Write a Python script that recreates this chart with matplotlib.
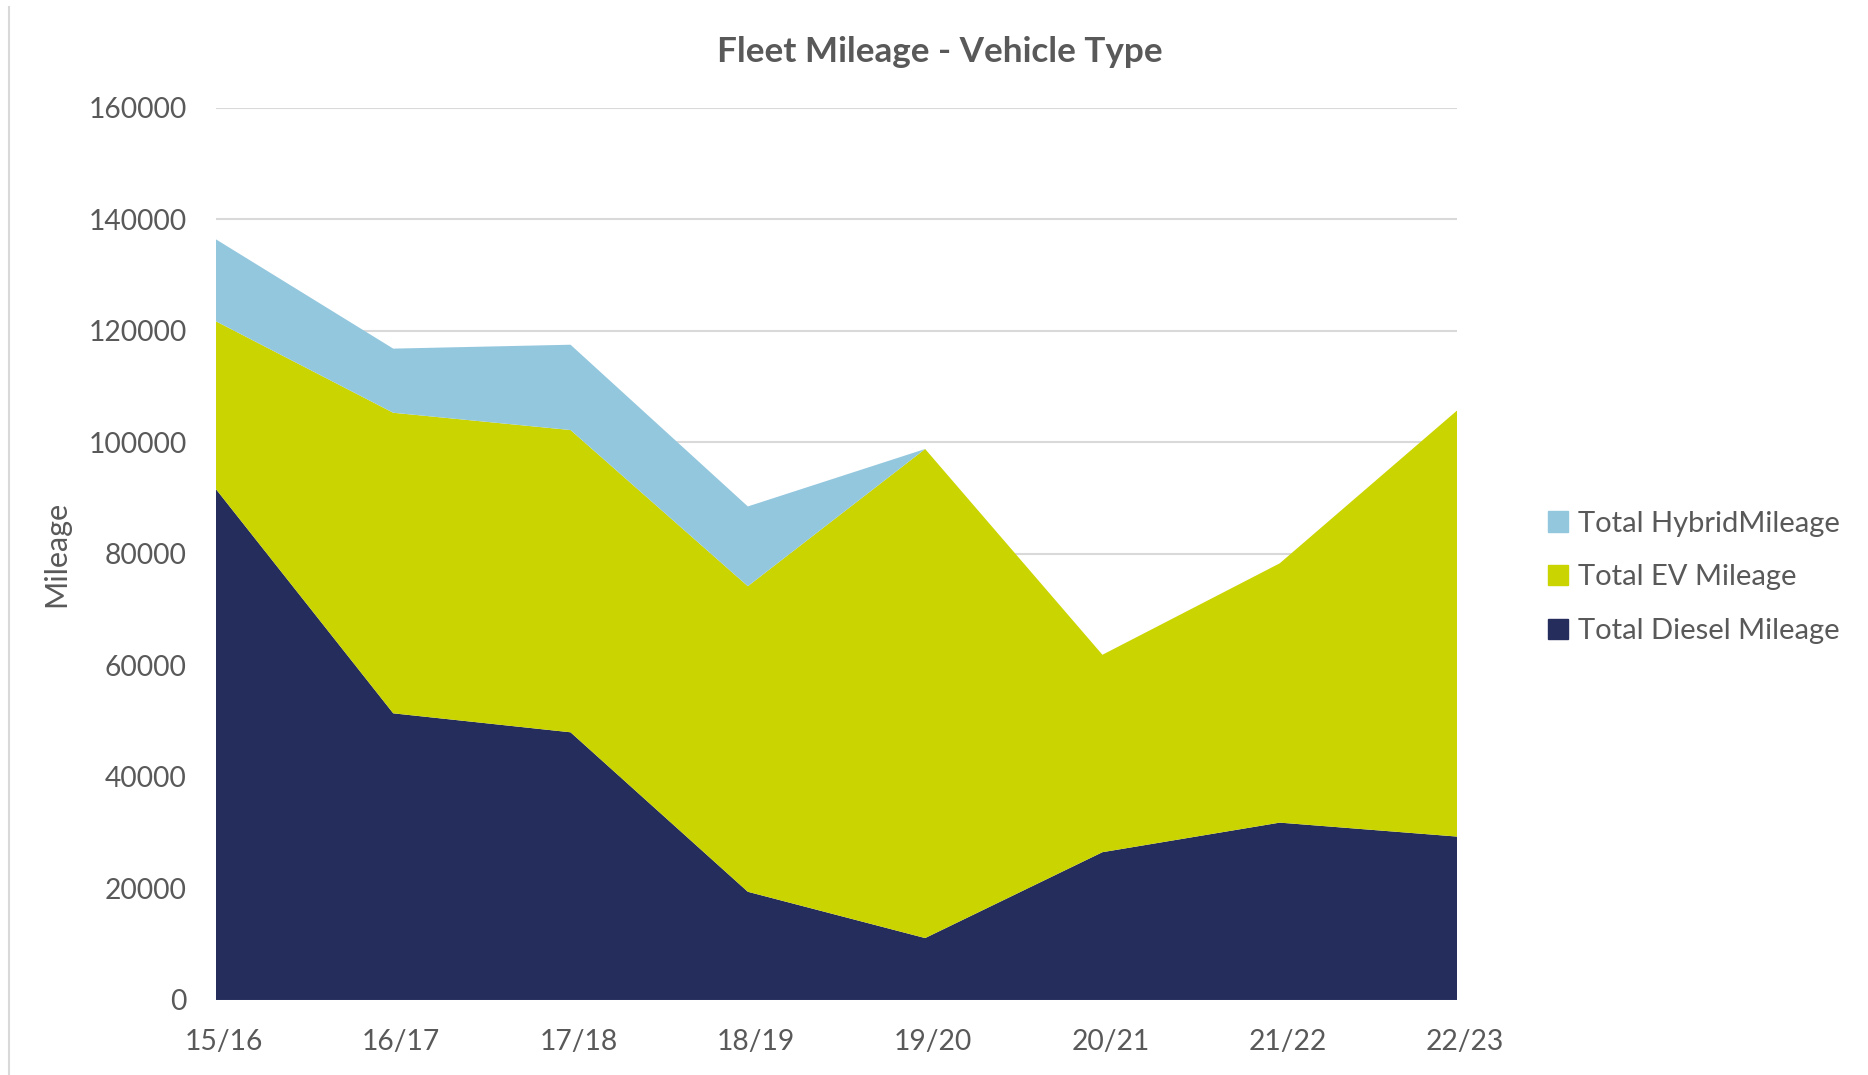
import matplotlib.pyplot as plt
from matplotlib.lines import Line2D
from matplotlib.patches import Patch
from matplotlib.transforms import ScaledTranslation

# Data
years = ["15/16", "16/17", "17/18", "18/19", "19/20", "20/21", "21/22", "22/23"]
diesel = [91600, 51400, 48000, 19400, 11100, 26500, 31800, 29300]
ev = [30100, 53900, 54200, 54800, 87700, 35400, 46500, 76400]
hybrid = [14700, 11500, 15300, 14300, 0, 0, 0, 0]

c_diesel = "#242D5C"
c_ev = "#CAD400"
c_hybrid = "#93C7DE"
text_col = "#595959"

plt.rcParams["font.family"] = ["Lato", "DejaVu Sans"]

fig = plt.figure(figsize=(18.68, 10.75), dpi=100)
ax = fig.add_axes([0.1156, 0.0698, 0.6644, 0.830])

x = list(range(len(years)))
ax.stackplot(x, diesel, ev, hybrid, colors=[c_diesel, c_ev, c_hybrid],
             linewidth=0, zorder=2)

# Formatting
ax.set_xlim(0, len(years) - 1)
ax.set_ylim(0, 160000)
ax.set_yticks(range(0, 160001, 20000))
ax.set_xticks(x)
ax.set_xticklabels(years)
ax.grid(axis="y", color="#D9D9D9", linewidth=1.5, zorder=0)
ax.set_axisbelow(True)
for s in ax.spines.values():
    s.set_visible(False)
ax.tick_params(axis="both", length=0, labelsize=20.3, colors=text_col)
ax.tick_params(axis="y", pad=21)
ax.tick_params(axis="x", pad=21)

# Excel puts the category labels a touch to the right of the tick
shift = ScaledTranslation(8 / 100, 0, fig.dpi_scale_trans)
for lbl in ax.get_xticklabels():
    lbl.set_transform(lbl.get_transform() + shift)

ax.set_ylabel("Mileage", fontsize=22, color=text_col, labelpad=13)

fig.text(0.503, 0.952, "Fleet Mileage - Vehicle Type", ha="center", va="center",
         fontsize=25.3, fontweight="bold", color=text_col)

# Legend (hybrid on top, like the original)
handles = [Patch(color=c_hybrid), Patch(color=c_ev), Patch(color=c_diesel)]
labels = ["Total HybridMileage", "Total EV Mileage", "Total Diesel Mileage"]
fig.legend(handles, labels, loc="center left", bbox_to_anchor=(0.8145, 0.463),
           frameon=False, fontsize=21, labelcolor=text_col, handlelength=0.7,
           handleheight=0.7, handletextpad=0.35, labelspacing=0.95)

# Thin chart border on the left edge
fig.add_artist(Line2D([0.0048, 0.0048], [0.0, 0.9935], color="#D9D9D9",
                      linewidth=1.5, transform=fig.transFigure))

plt.savefig("out.png", dpi=100)
